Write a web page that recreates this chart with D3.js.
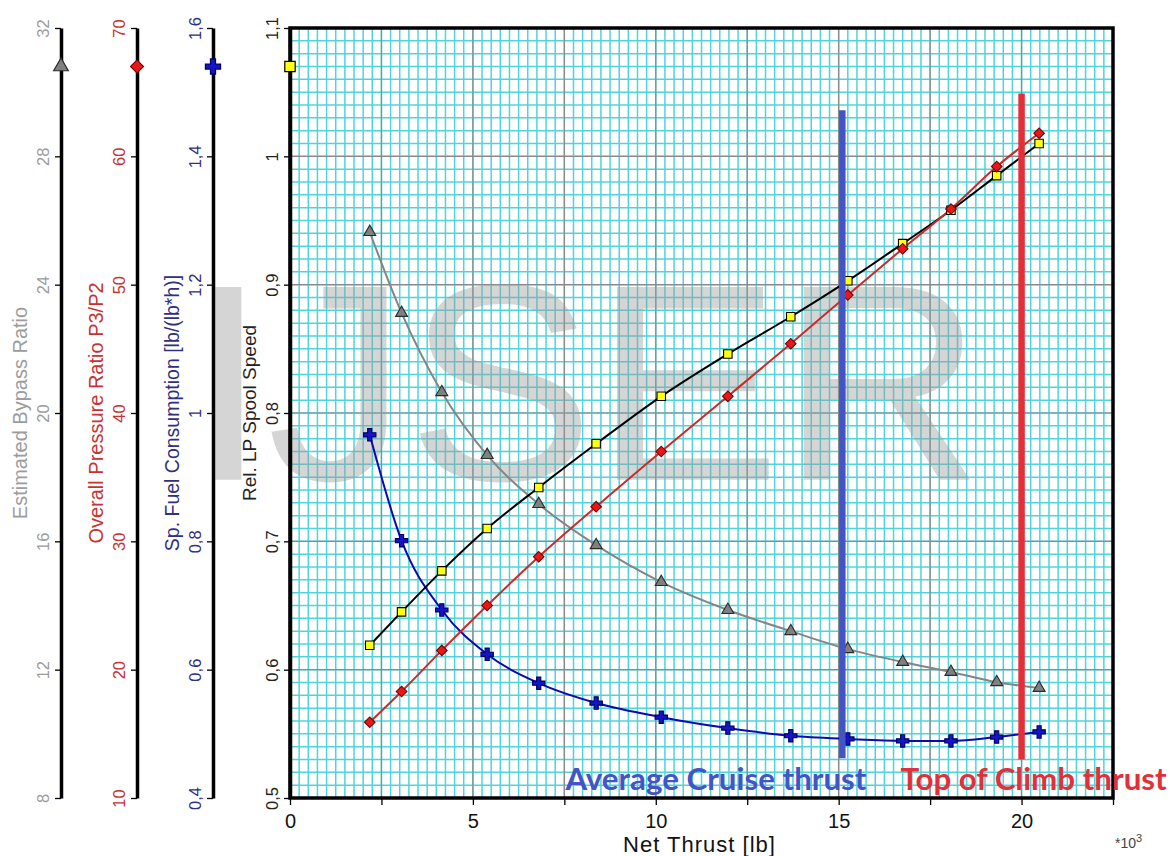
<!DOCTYPE html>
<meta charset="utf-8">
<script src="https://d3js.org/d3.v7.min.js"></script>
<style>
  body { margin: 0; background: #fff; }
  svg { display: block; font-family: "Liberation Sans", Arial, sans-serif; }
</style>
<body>
<div id="chart"></div>
<script>

// net thrust of each operating point (*10^3 lb)
var thrust = [2.18, 3.05, 4.15, 5.39, 6.80, 8.37, 10.15, 11.97, 13.69, 15.25, 16.75, 18.07, 19.32, 20.48];
// the four series
var spoolSpeed    = [0.619, 0.645, 0.677, 0.710, 0.742, 0.776, 0.813, 0.846, 0.875, 0.903, 0.932, 0.958, 0.985, 1.010];
var pressureRatio = [15.9, 18.3, 21.5, 25.0, 28.8, 32.7, 37.0, 41.3, 45.4, 49.2, 52.8, 55.9, 59.2, 61.8];
var bypassRatio   = [25.64, 23.12, 20.65, 18.69, 17.16, 15.88, 14.73, 13.86, 13.20, 12.64, 12.24, 11.93, 11.61, 11.43];
var sfc           = [0.966, 0.801, 0.693, 0.624, 0.579, 0.548, 0.526, 0.509, 0.497, 0.492, 0.489, 0.489, 0.495, 0.503];

// tick values
var thrustTicks = [0, 2.5, 5, 7.5, 10, 12.5, 15, 17.5, 20, 22.5];
var spoolTicks  = [0.5, 0.6, 0.7, 0.8, 0.9, 1.0, 1.1];
var bprTicks    = [8, 12, 16, 20, 24, 28, 32];
var oprTicks    = [10, 20, 30, 40, 50, 60, 70];
var sfcTicks    = [0.4, 0.6, 0.8, 1.0, 1.2, 1.4, 1.6];

// level (in spool speed units) of the series symbols on each axis
var legendLevel = 1.07;

// thrust marks: cruise and top of climb
var markLabels      = ["Average Cruise thrust", "Top of Climb thrust"];
var markThrust      = [15.1, 20.0];
var markTop         = [1.036, 1.049];
var markBottom      = [0.531, 0.530];
var markLabelThrust = [7.53, 16.69];
var markLabelLevel  = 0.506;

var W = 1170, H = 856;
var plot = {left: 290, right: 1113, top: 28, bottom: 798};

var svg = d3.select("#chart").append("svg")
  .attr("width", W)
  .attr("height", H);

var x = d3.scaleLinear().domain([0, 22.5]).range([plot.left, plot.right]);
var ySpool = d3.scaleLinear().domain([0.5, 1.1]).range([plot.bottom, plot.top]);
var yBpr = d3.scaleLinear().domain([8, 32]).range([plot.bottom, plot.top]);
var yOpr = d3.scaleLinear().domain([10, 70]).range([plot.bottom, plot.top]);
var ySfc = d3.scaleLinear().domain([0.4, 1.6]).range([plot.bottom, plot.top]);

// decimal comma like the original
function comma(d) { return String(+d.toFixed(2)).replace(".", ","); }

// grid - fine cyan, then grey every 2.5 / 0.1
var grid = svg.append("g");
grid.selectAll(".vmin")
  .data(d3.range(0, 91).map(function(i) { return i * 0.25; }))
  .enter().append("line")
    .attr("x1", d => x(d)).attr("x2", d => x(d))
    .attr("y1", plot.top).attr("y2", plot.bottom)
    .attr("stroke", "#50d4da").attr("stroke-width", 1.5);
grid.selectAll(".hmin")
  .data(d3.range(50, 111).map(function(i) { return i / 100; }))
  .enter().append("line")
    .attr("x1", plot.left).attr("x2", plot.right)
    .attr("y1", d => ySpool(d)).attr("y2", d => ySpool(d))
    .attr("stroke", "#50d4da").attr("stroke-width", 1.5);
grid.selectAll(".vmaj")
  .data(thrustTicks)
  .enter().append("line")
    .attr("x1", d => x(d)).attr("x2", d => x(d))
    .attr("y1", plot.top).attr("y2", plot.bottom)
    .attr("stroke", "#8a8a8a").attr("stroke-width", 1.2);
grid.selectAll(".hmaj")
  .data(spoolTicks)
  .enter().append("line")
    .attr("x1", plot.left).attr("x2", plot.right)
    .attr("y1", d => ySpool(d)).attr("y2", d => ySpool(d))
    .attr("stroke", "#8a8a8a").attr("stroke-width", 1.2);

// watermark
svg.append("text")
  .attr("x", x(-2.75))
  .attr("y", ySpool(0.748))
  .attr("font-size", 280)
  .attr("fill", "#9a9a9a")
  .attr("fill-opacity", 0.42)
  .text("IJSER");

// series
var series = [
  {values: bypassRatio,   scale: yBpr,   color: "#858585", marker: "triangle"},
  {values: sfc,           scale: ySfc,   color: "#0a0ab0", marker: "cross"},
  {values: spoolSpeed,    scale: ySpool, color: "#000000", marker: "square"},
  {values: pressureRatio, scale: yOpr,   color: "#cc2a2a", marker: "diamond"}
];

var markerStyle = {
  triangle: {type: d3.symbolTriangle, size: 62, fill: "#808080", stroke: "#2a2a2a", rot: 0},
  cross:    {type: d3.symbolCross,    size: 85, fill: "#1414c8", stroke: "#00005a", rot: 0},
  square:   {type: d3.symbolSquare,   size: 72, fill: "#ffff10", stroke: "#000000", rot: 0},
  diamond:  {type: d3.symbolSquare,   size: 56, fill: "#e81818", stroke: "#7a0000", rot: 45}
};

series.forEach(function(s) {
  var line = d3.line()
    .x(function(d, i) { return x(thrust[i]); })
    .y(function(d) { return s.scale(d); })
    .curve(d3.curveMonotoneX);
  svg.append("path")
    .datum(s.values)
    .attr("fill", "none")
    .attr("stroke", s.color)
    .attr("stroke-width", 2)
    .attr("d", line);
});

series.forEach(function(s) {
  var m = markerStyle[s.marker];
  svg.selectAll(".m-" + s.marker)
    .data(s.values)
    .enter().append("path")
      .attr("transform", function(d, i) {
        return "translate(" + x(thrust[i]) + "," + s.scale(d) + ") rotate(" + m.rot + ")";
      })
      .attr("d", d3.symbol().type(m.type).size(m.size))
      .attr("fill", m.fill)
      .attr("stroke", m.stroke)
      .attr("stroke-width", 1.1);
});

// cruise / top of climb bars
var markColors = ["#4254c6", "#e2303a"];
svg.selectAll(".bar")
  .data(markThrust)
  .enter().append("line")
    .attr("x1", d => x(d)).attr("x2", d => x(d))
    .attr("y1", (d, i) => ySpool(markTop[i]))
    .attr("y2", (d, i) => ySpool(markBottom[i]))
    .attr("stroke", (d, i) => markColors[i])
    .attr("stroke-width", 6.5);

// frame
svg.append("rect")
  .attr("x", plot.left).attr("y", plot.top)
  .attr("width", plot.right - plot.left)
  .attr("height", plot.bottom - plot.top)
  .attr("fill", "none")
  .attr("stroke", "#000")
  .attr("stroke-width", 3.5);

// vertical axes: main + three extra ones on the left
var axes = [
  {pos: plot.left, scale: ySpool, ticks: spoolTicks, color: "#222222", title: "Rel. LP Spool Speed", marker: "square", title_size: 19},
  {pos: 213, scale: ySfc, ticks: sfcTicks, color: "#30307e", title: "Sp. Fuel Consumption [lb/(lb*h)]", marker: "cross", title_size: 19.5},
  {pos: 137, scale: yOpr, ticks: oprTicks, color: "#c83232", title: "Overall Pressure Ratio P3/P2", marker: "diamond", title_size: 20},
  {pos: 61, scale: yBpr, ticks: bprTicks, color: "#9c9c9c", title: "Estimated Bypass Ratio", marker: "triangle", title_size: 20}
];

axes.forEach(function(a) {
  var g = svg.append("g")
    .attr("transform", "translate(" + a.pos + ",0)")
    .call(d3.axisLeft(a.scale).tickValues(a.ticks).tickFormat(comma).tickSize(6).tickSizeOuter(0));
  g.select(".domain").attr("stroke-width", 3.5);
  g.selectAll(".tick line").attr("stroke-width", 1.3);
  g.selectAll(".tick text")
    .attr("transform", "rotate(-90)")
    .attr("x", 0)
    .attr("y", -12)
    .attr("dy", 0)
    .attr("text-anchor", "middle")
    .attr("font-size", 16.5)
    .attr("font-family", "Liberation Sans, Arial, sans-serif")
    .attr("fill", a.color);

  svg.append("text")
    .attr("transform", "translate(" + (a.pos - 34) + "," + ((plot.top + plot.bottom) / 2) + ") rotate(-90)")
    .attr("text-anchor", "middle")
    .attr("font-size", a.title_size)
    .attr("fill", a.color)
    .text(a.title);

  var m = markerStyle[a.marker];
  svg.append("path")
    .attr("transform", "translate(" + a.pos + "," + ySpool(legendLevel) + ") rotate(" + m.rot + ")")
    .attr("d", d3.symbol().type(m.type).size(m.size * 1.5))
    .attr("fill", m.fill)
    .attr("stroke", m.stroke)
    .attr("stroke-width", 1.2);
});

// x axis
var xAxis = svg.append("g")
  .attr("transform", "translate(0," + plot.bottom + ")")
  .call(d3.axisBottom(x).tickValues(thrustTicks)
    .tickFormat(function(d) { return d % 5 === 0 ? d : ""; })
    .tickSize(7).tickSizeOuter(0));
xAxis.select(".domain").remove();
xAxis.selectAll(".tick line").attr("stroke-width", 1.3);
xAxis.selectAll(".tick text")
  .attr("y", 30)
  .attr("dy", 0)
  .attr("font-size", 20)
  .attr("font-family", "Liberation Sans, Arial, sans-serif")
  .attr("fill", "#111");

svg.append("text")
  .attr("x", (plot.left + plot.right) / 2 - 2)
  .attr("y", 852)
  .attr("text-anchor", "middle")
  .attr("font-size", 22)
  .attr("letter-spacing", 1)
  .attr("fill", "#111")
  .text("Net Thrust [lb]");

var unit = svg.append("text")
  .attr("x", plot.right + 2)
  .attr("y", 848)
  .attr("font-size", 14)
  .attr("fill", "#444")
  .text("*10");
unit.append("tspan")
  .attr("dy", -6)
  .attr("font-size", 11)
  .text("3");

// labels of the thrust marks
svg.selectAll(".marklabel")
  .data(markLabels)
  .enter().append("text")
    .attr("x", (d, i) => x(markLabelThrust[i]))
    .attr("y", ySpool(markLabelLevel))
    .attr("font-family", "Lato, sans-serif")
    .attr("font-weight", 700)
    .attr("font-size", 31.3)
    .attr("fill", (d, i) => markColors[i])
    .text(d => d);

</script>
</body>
